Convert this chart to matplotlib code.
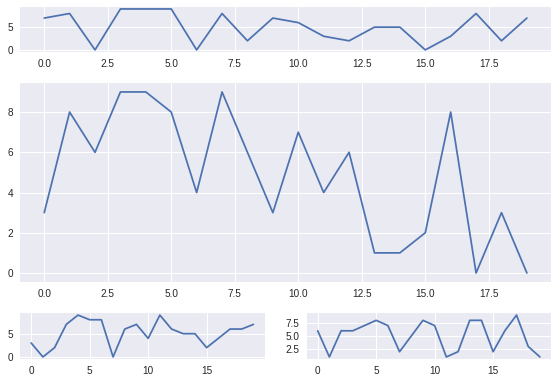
import matplotlib
matplotlib.use('Agg')
import matplotlib.pyplot as plt
import matplotlib.gridspec as gridspec

plt.style.use('seaborn-v0_8')
plt.rcParams['font.family'] = ['Liberation Sans', 'DejaVu Sans']

x = list(range(20))
top = [7, 8, 0, 9, 9, 9, 0, 8, 2, 7, 6, 3, 2, 5, 5, 0, 3, 8, 2, 7]
middle = [3, 8, 6, 9, 9, 8, 4, 9, 6, 3, 7, 4, 6, 1, 1, 2, 8, 0, 3, 0]
bottom_left = [3, 0, 2, 7, 9, 8, 8, 0, 6, 7, 4, 9, 6, 5, 5, 2, 4, 6, 6, 7]
bottom_right = [6, 1, 6, 6, 7, 8, 7, 2, 5, 8, 7, 1, 2, 8, 8, 2, 6, 9, 3, 1]

fig = plt.figure(figsize=(558 / 72, 384 / 72), dpi=72)
gs = gridspec.GridSpec(3, 2, height_ratios=[45, 199, 46],
                       left=0.036, right=0.9875, top=0.982, bottom=0.065,
                       hspace=0.32, wspace=0.172)

ax1 = fig.add_subplot(gs[0, :])
ax1.plot(x, top)

ax2 = fig.add_subplot(gs[1, :])
ax2.plot(x, middle)

ax3 = fig.add_subplot(gs[2, 0])
ax3.plot(x, bottom_left)

ax4 = fig.add_subplot(gs[2, 1])
ax4.plot(x, bottom_right)

plt.savefig('out.png', dpi=72)
